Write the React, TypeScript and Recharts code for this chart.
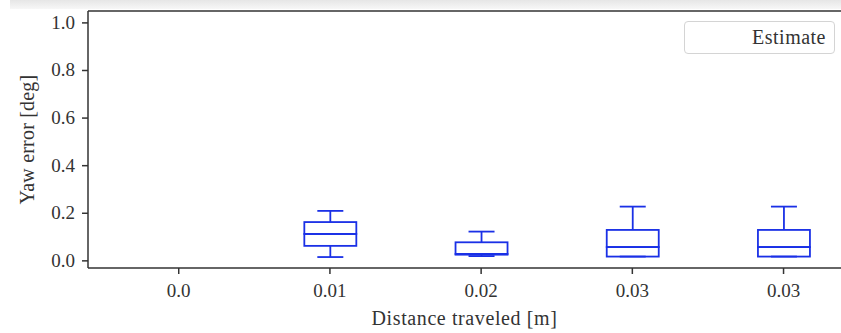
import React from 'react';
import { ComposedChart, Bar, XAxis, YAxis, ReferenceLine, Legend } from 'recharts';

// distance bins (box positions) and their tick labels
const positions = [1, 2, 3, 4, 5];
const tickLabels = ['0.0', '0.01', '0.02', '0.03', '0.03'];
const yTicks = [0, 0.2, 0.4, 0.6, 0.8, 1.0];

// box statistics per bin (first bin has no samples)
const hasData = [false, true, true, true, true];
const whiskerLow = [0, 0.016, 0.02, 0.018, 0.018];
const q1 = [0, 0.063, 0.026, 0.018, 0.018];
const median = [0, 0.113, 0.029, 0.058, 0.058];
const q3 = [0, 0.163, 0.078, 0.13, 0.13];
const whiskerHigh = [0, 0.21, 0.123, 0.228, 0.228];

const BLUE = '#1a30e6';
const AXIS = '#333';
const FONT = '"Liberation Serif", "DejaVu Serif", serif';

const data = positions.map((pos, i) => ({
  pos,
  has: hasData[i],
  base: whiskerLow[i],
  wl: q1[i] - whiskerLow[i],
  bl: median[i] - q1[i],
  bh: q3[i] - median[i],
  wh: whiskerHigh[i] - q3[i],
}));

const LowWhisker = (p: any) => {
  if (!p.payload?.has) return <g />;
  const cx = p.x + p.width / 2;
  const yb = p.y + p.height;
  return (
    <g stroke={BLUE} strokeWidth={1.8}>
      <line x1={cx} x2={cx} y1={p.y} y2={yb} />
      <line x1={cx - p.width / 4} x2={cx + p.width / 4} y1={yb} y2={yb} />
    </g>
  );
};

const HighWhisker = (p: any) => {
  if (!p.payload?.has) return <g />;
  const cx = p.x + p.width / 2;
  return (
    <g stroke={BLUE} strokeWidth={1.8}>
      <line x1={cx} x2={cx} y1={p.y} y2={p.y + p.height} />
      <line x1={cx - p.width / 4} x2={cx + p.width / 4} y1={p.y} y2={p.y} />
    </g>
  );
};

const BoxPart = (p: any) => {
  if (!p.payload?.has) return <g />;
  return <rect x={p.x} y={p.y} width={p.width} height={Math.max(p.height, 0)} fill="none" stroke={BLUE} strokeWidth={1.8} />;
};

const XTick = (p: any) => (
  <text x={p.x} y={p.y} dy={13} textAnchor="middle" fontFamily={FONT} fontSize={19} fill={AXIS}>
    {tickLabels[positions.indexOf(p.payload.value)] ?? ''}
  </text>
);

const YTick = (p: any) => (
  <text x={p.x} y={p.y} dy={6} textAnchor="end" fontFamily={FONT} fontSize={19} fill={AXIS}>
    {Number(p.payload.value).toFixed(1)}
  </text>
);

const YLabel = (props: any) => {
  const vb = props.viewBox;
  const x = vb.x + 34;
  const y = vb.y + vb.height / 2;
  return (
    <text x={x} y={y} transform={`rotate(-90 ${x} ${y})`} textAnchor="middle" fontFamily={FONT} fontSize={20} fill={AXIS} letterSpacing={0.2}>
      Yaw error [deg]
    </text>
  );
};

const XLabel = (props: any) => {
  const vb = props.viewBox;
  return (
    <text x={vb.x + vb.width / 2} y={vb.y + 57} textAnchor="middle" fontFamily={FONT} fontSize={20} fill={AXIS} letterSpacing={0.6}>
      Distance traveled [m]
    </text>
  );
};

const LegendBox = () => (
  <div
    style={{
      width: 151,
      height: 33,
      boxSizing: 'border-box',
      border: '1px solid #d4d4d4',
      borderRadius: 4,
      background: '#fff',
      fontFamily: FONT,
      fontSize: 20,
      letterSpacing: 0.5,
      color: AXIS,
      textAlign: 'right',
      paddingRight: 8,
      lineHeight: '31px',
    }}
  >
    Estimate
  </div>
);

export default function App() {
  return (
    <div style={{ position: 'absolute', top: 0, left: 0, width: 841, height: 333, background: '#fff', overflow: 'hidden' }}>
      <div style={{ position: 'absolute', top: 0, left: 10, width: 831, height: 9, background: 'linear-gradient(#e6e6e6, #f7f7f7)' }} />
      <ComposedChart width={841} height={333} data={data} margin={{ top: 11, right: 0, bottom: 0, left: 0 }}>
        <XAxis
          dataKey="pos"
          type="number"
          domain={[0.4, 5.38]}
          ticks={positions}
          allowDataOverflow
          height={65}
          stroke={AXIS}
          strokeWidth={1.5}
          tickSize={6}
          tickMargin={10}
          tick={<XTick />}
          label={<XLabel />}
        />
        <YAxis
          type="number"
          domain={[-0.03, 1.05]}
          ticks={yTicks}
          allowDataOverflow
          width={88}
          stroke={AXIS}
          strokeWidth={1.5}
          tickSize={6}
          tickMargin={7}
          tick={<YTick />}
          label={<YLabel />}
        />
        <ReferenceLine y={1.05} stroke={AXIS} strokeWidth={1.5} />
        <Legend
          layout="vertical"
          align="center"
          verticalAlign="middle"
          content={<LegendBox />}
          wrapperStyle={{ top: 21, left: 684, width: 151, height: 33 }}
        />
        <Bar dataKey="base" stackId="box" barSize={52} fill="none" isAnimationActive={false} legendType="none" />
        <Bar dataKey="wl" stackId="box" barSize={52} shape={<LowWhisker />} isAnimationActive={false} />
        <Bar dataKey="bl" stackId="box" barSize={52} shape={<BoxPart />} isAnimationActive={false} />
        <Bar dataKey="bh" stackId="box" barSize={52} shape={<BoxPart />} isAnimationActive={false} />
        <Bar dataKey="wh" stackId="box" barSize={52} shape={<HighWhisker />} isAnimationActive={false} name="Estimate" />
      </ComposedChart>
    </div>
  );
}
